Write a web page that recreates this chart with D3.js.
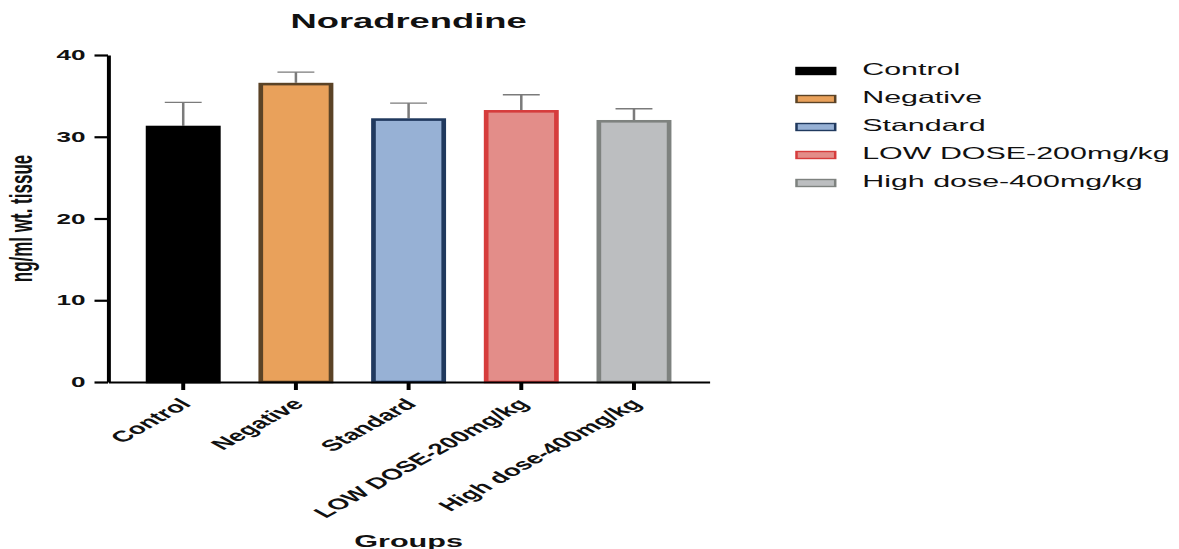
<!DOCTYPE html>
<html>
<head>
<meta charset="utf-8">
<script src="https://cdn.jsdelivr.net/npm/d3@7"></script>
<style>
  html, body { margin: 0; padding: 0; background: #fff; }
  svg { display: block; }
  text { font-family: "Liberation Sans", Arial, Helvetica, sans-serif; fill: #111; }
</style>
</head>
<body>
<svg id="chart" width="1179" height="549"></svg>
<script>
// Noradrenaline levels per treatment group (mean and SD, ng/ml wt. tissue)
const groups = ["Control", "Negative", "Standard", "LOW DOSE-200mg/kg", "High dose-400mg/kg"];
const means  = [31.35, 36.6, 32.26, 33.27, 32.05];
const sds    = [2.85, 1.3, 1.85, 1.87, 1.38];
const yTicks = [0, 10, 20, 30, 40];
const fills   = ["#000000", "#e9a15b", "#97b1d5", "#e38d89", "#bcbec0"];
const strokes = ["#000000", "#5b4326", "#20395e", "#d63c3c", "#7e827f"];

// The figure is laid out in a narrow frame and widened horizontally.
const stretch = 1.8;
const svg = d3.select("#chart");
const g = svg.append("g").attr("transform", `scale(${stretch},1)`);

const plot = { left: 60, right: 394, top: 55, bottom: 382 };

const x = d3.scaleBand()
  .domain(groups)
  .range([plot.left, plot.right])
  .padding(0.335);

const y = d3.scaleLinear()
  .domain([0, 40])
  .range([plot.bottom, plot.top]);

const data = groups.map((name, i) => ({ name, mean: means[i], sd: sds[i], fill: fills[i], stroke: strokes[i] }));

// Error bars (upper whisker only), drawn beneath the bars
const err = g.append("g").attr("class", "errors")
  .attr("stroke", "#7b7b7b").attr("stroke-width", 1.4).attr("fill", "none");
const capW = 20.5;
data.forEach(d => {
  const cx = x(d.name) + x.bandwidth() / 2;
  err.append("line")
    .attr("x1", cx).attr("x2", cx)
    .attr("y1", y(d.mean)).attr("y2", y(d.mean + d.sd));
  err.append("line")
    .attr("x1", cx - capW / 2).attr("x2", cx + capW / 2)
    .attr("y1", y(d.mean + d.sd)).attr("y2", y(d.mean + d.sd));
});

// Bars with outlines kept inside the band
const sw = 2.6;
g.append("g").attr("class", "bars")
  .selectAll("rect")
  .data(data)
  .join("rect")
  .attr("x", d => x(d.name) + sw / 2)
  .attr("width", x.bandwidth() - sw)
  .attr("y", d => y(d.mean) + sw / 2)
  .attr("height", d => y(0) - y(d.mean) - sw / 2)
  .attr("fill", d => d.fill)
  .attr("stroke", d => d.stroke)
  .attr("stroke-width", sw);

// Y axis
const yAxis = g.append("g")
  .attr("transform", `translate(${plot.left},0)`)
  .call(d3.axisLeft(y).tickValues(yTicks).tickSize(7.5).tickSizeOuter(0).tickPadding(5));
yAxis.select(".domain").attr("stroke", "#000").attr("stroke-width", 2.2);
yAxis.selectAll(".tick line").attr("stroke", "#000").attr("stroke-width", 2.2);
yAxis.selectAll(".tick text")
  .style("font-family", "'Liberation Sans', Arial, sans-serif")
  .style("font-weight", "bold").style("font-size", "14.5px").attr("fill", "#111");

// X axis
const xAxis = g.append("g")
  .attr("transform", `translate(0,${plot.bottom})`)
  .call(d3.axisBottom(x).tickSize(8).tickSizeOuter(0).tickPadding(4));
xAxis.select(".domain").attr("stroke", "#000").attr("stroke-width", 2.2);
xAxis.selectAll(".tick line").attr("stroke", "#000").attr("stroke-width", 2.2);
xAxis.selectAll(".tick text")
  .style("font-family", "'Liberation Sans', Arial, sans-serif")
  .style("font-weight", "bold").style("font-size", "15.5px").attr("fill", "#111")
  .attr("text-anchor", "end")
  .attr("dy", null)
  .attr("y", null)
  .attr("transform", "translate(5,23) rotate(-45)");

// Title
g.append("text")
  .attr("x", (plot.left + plot.right) / 2)
  .attr("y", 28)
  .attr("text-anchor", "middle")
  .style("font-weight", "bold").style("font-size", "20.2px")
  .text("Noradrendine");

// Axis titles
g.append("text")
  .attr("transform", `translate(17.5,${(plot.top + plot.bottom) / 2}) rotate(-90)`)
  .attr("text-anchor", "middle")
  .style("font-weight", "bold").style("font-size", "17px")
  .text("ng/ml wt. tissue");

g.append("text")
  .attr("x", (plot.left + plot.right) / 2)
  .attr("y", 547)
  .attr("text-anchor", "middle")
  .style("font-weight", "bold").style("font-size", "17px")
  .text("Groups");

// Legend
const legend = g.append("g").attr("class", "legend");
const rowY = d3.scaleLinear().domain([0, 1]).range([75, 103]);
data.forEach((d, i) => {
  const by = rowY(i);
  legend.append("rect")
    .attr("x", 442.5).attr("y", by - 7.5)
    .attr("width", 21.5).attr("height", 7)
    .attr("fill", d.fill).attr("stroke", d.stroke).attr("stroke-width", 1.4);
  legend.append("text")
    .attr("x", 479).attr("y", by)
    .style("font-size", "16.9px")
    .text(d.name);
});
</script>
</body>
</html>
